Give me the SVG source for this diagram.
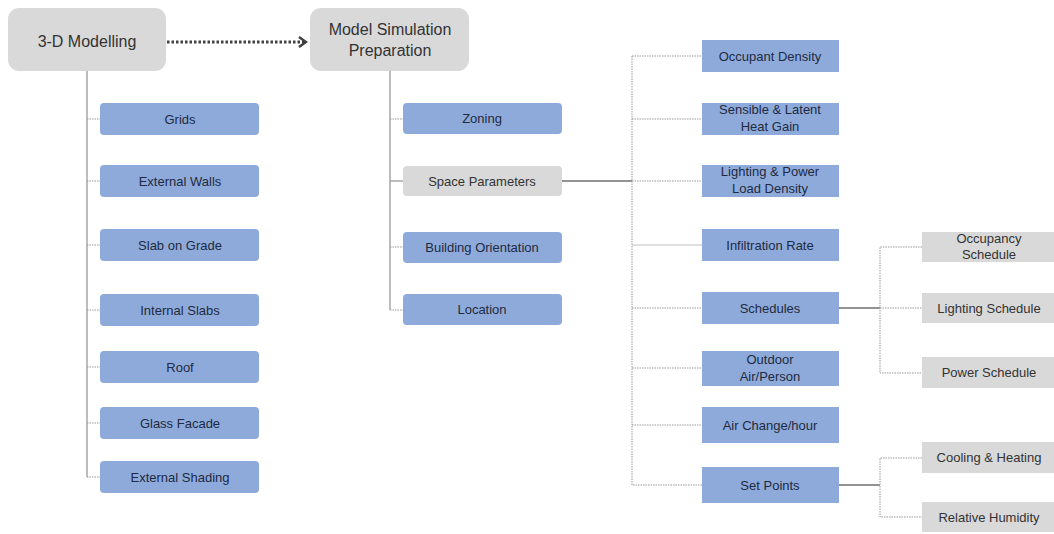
<svg xmlns="http://www.w3.org/2000/svg" width="1054" height="534" viewBox="0 0 1054 534">
<defs>
<style>
.top{fill:#d9d9d9}
.blue{fill:#8eaadb}
.gray{fill:#d9d9d9}
text{font-family:"Liberation Sans","Open Sans",sans-serif;text-anchor:middle}
.tt{font-size:16px;fill:#333}
.bt{font-size:13px;fill:#1e2a40}
.gt{font-size:13px;fill:#333}
.trunk{stroke:#a6a6a6;stroke-width:1.5;fill:none}
.dot{stroke:#9a9a9a;stroke-width:1;stroke-dasharray:1.5,1;fill:none}
.solid{stroke:#6f6f6f;stroke-width:1.5;fill:none}
</style>
<marker id="chev" markerWidth="10" markerHeight="12" refX="8" refY="6" orient="auto" markerUnits="userSpaceOnUse">
<path d="M1,1 L8,6 L1,11" fill="none" stroke="#404040" stroke-width="2.5"/>
</marker>
</defs>
<rect width="1054" height="534" fill="#fff"/>
<g id="connectors">
<line x1="167" y1="42" x2="306" y2="42" stroke="#404040" stroke-width="3" stroke-dasharray="2.5,2" marker-end="url(#chev)"/>
<line class="trunk" x1="87" y1="71" x2="87" y2="477"/>
<path class="dot" d="M87,119 H100 M87,181 H100 M87,245 H100 M87,310 H100 M87,367 H100 M87,423 H100 M87,477 H100"/>
<line class="trunk" x1="390" y1="71" x2="390" y2="310"/>
<path class="dot" d="M390,119 H403 M390,247 H403 M390,310 H403"/>
<line class="trunk" x1="390" y1="181" x2="403" y2="181"/>
<line class="solid" x1="562" y1="181" x2="632" y2="181"/>
<path class="dot" d="M632,56 V485 H702 M632,56 H702 M632,119 H702 M632,181 H702 M632,308 H702 M632,368 H702 M632,425 H702"/>
<line stroke="#bfbfbf" stroke-width="1.2" x1="632" y1="245" x2="702" y2="245"/>
<line class="solid" x1="839" y1="308" x2="880" y2="308"/>
<path class="dot" d="M922,247 H880 V373 H922 M880,308 H922"/>
<line class="solid" x1="839" y1="485" x2="880" y2="485"/>
<path class="dot" d="M922,458 H880 V517 H922"/>
</g>
<g id="n-3d"><rect class="top" x="8" y="8" width="158" height="63" rx="11"/><text class="tt" x="87" y="47">3-D Modelling</text></g>
<g id="n-msp"><rect class="top" x="310" y="8" width="159" height="63" rx="11"/><text class="tt" x="390" y="35">Model Simulation</text><text class="tt" x="390" y="56">Preparation</text></g>
<g id="n-grids"><rect class="blue" x="100" y="103" width="159" height="32" rx="4"/><text class="bt" x="180" y="123.5">Grids</text></g>
<g id="n-extwalls"><rect class="blue" x="100" y="165" width="159" height="32" rx="4"/><text class="bt" x="180" y="185.5">External Walls</text></g>
<g id="n-slab"><rect class="blue" x="100" y="229" width="159" height="32" rx="4"/><text class="bt" x="180" y="249.5">Slab on Grade</text></g>
<g id="n-intslabs"><rect class="blue" x="100" y="294" width="159" height="32" rx="4"/><text class="bt" x="180" y="314.5">Internal Slabs</text></g>
<g id="n-roof"><rect class="blue" x="100" y="351" width="159" height="32" rx="4"/><text class="bt" x="180" y="371.5">Roof</text></g>
<g id="n-glass"><rect class="blue" x="100" y="407" width="159" height="32" rx="4"/><text class="bt" x="180" y="427.5">Glass Facade</text></g>
<g id="n-extshade"><rect class="blue" x="100" y="461" width="159" height="32" rx="4"/><text class="bt" x="180" y="481.5">External Shading</text></g>
<g id="n-zoning"><rect class="blue" x="403" y="103" width="159" height="31" rx="4"/><text class="bt" x="482" y="123">Zoning</text></g>
<g id="n-space"><rect class="gray" x="403" y="166" width="159" height="30" rx="4"/><text class="gt" x="482" y="185.5">Space Parameters</text></g>
<g id="n-orient"><rect class="blue" x="403" y="232" width="159" height="31" rx="4"/><text class="bt" x="482" y="252">Building Orientation</text></g>
<g id="n-location"><rect class="blue" x="403" y="294" width="159" height="31" rx="4"/><text class="bt" x="482" y="314">Location</text></g>
<g id="n-occdens"><rect class="blue" x="702" y="40" width="137" height="32"/><text class="bt" x="770" y="60.5">Occupant Density</text></g>
<g id="n-sensible"><rect class="blue" x="702" y="103" width="137" height="32"/><text class="bt" x="770" y="114">Sensible &amp; Latent</text><text class="bt" x="770" y="131">Heat Gain</text></g>
<g id="n-lighting"><rect class="blue" x="702" y="165" width="137" height="32"/><text class="bt" x="770" y="176">Lighting &amp; Power</text><text class="bt" x="770" y="193">Load Density</text></g>
<g id="n-infil"><rect class="blue" x="702" y="229" width="137" height="32"/><text class="bt" x="770" y="249.5">Infiltration Rate</text></g>
<g id="n-sched"><rect class="blue" x="702" y="292" width="137" height="32"/><text class="bt" x="770" y="312.5">Schedules</text></g>
<g id="n-outdoor"><rect class="blue" x="702" y="351" width="137" height="35"/><text class="bt" x="770" y="363.5">Outdoor</text><text class="bt" x="770" y="381">Air/Person</text></g>
<g id="n-airchange"><rect class="blue" x="702" y="407" width="137" height="36"/><text class="bt" x="770" y="429.5">Air Change/hour</text></g>
<g id="n-setpoints"><rect class="blue" x="702" y="467" width="137" height="36"/><text class="bt" x="770" y="489.5">Set Points</text></g>
<g id="n-occsched"><rect class="gray" x="922" y="232" width="134" height="30"/><text class="gt" x="989" y="243">Occupancy</text><text class="gt" x="989" y="259">Schedule</text></g>
<g id="n-lightsched"><rect class="gray" x="922" y="293" width="134" height="30"/><text class="gt" x="989" y="312.5">Lighting Schedule</text></g>
<g id="n-powersched"><rect class="gray" x="922" y="357" width="134" height="31"/><text class="gt" x="989" y="377">Power Schedule</text></g>
<g id="n-cooling"><rect class="gray" x="922" y="442" width="134" height="31"/><text class="gt" x="989" y="462">Cooling &amp; Heating</text></g>
<g id="n-humidity"><rect class="gray" x="922" y="502" width="134" height="30"/><text class="gt" x="989" y="521.5">Relative Humidity</text></g>
</svg>
